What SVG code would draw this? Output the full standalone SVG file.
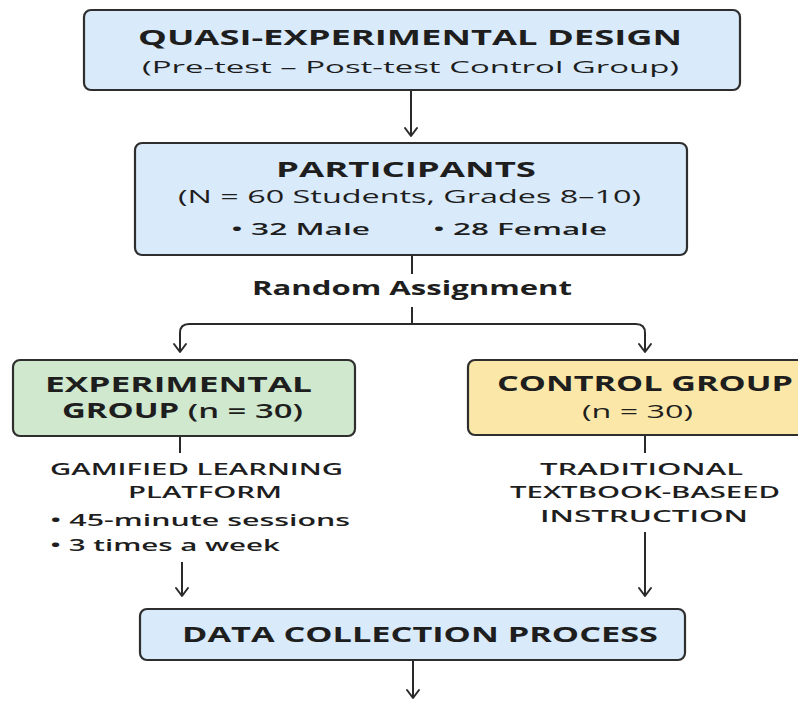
<svg xmlns="http://www.w3.org/2000/svg" width="798" height="702" viewBox="0 0 798 702">
<defs>
<marker id="arr" viewBox="-10 -8 12 16" refX="0" refY="0" markerWidth="12" markerHeight="16" markerUnits="userSpaceOnUse" orient="auto">
<path d="M-8,-6 L0,0 L-8,6" fill="none" stroke="#2a2a2a" stroke-width="2" stroke-linecap="round" stroke-linejoin="round"/>
</marker>
</defs>
<style>
.box{stroke:#2e2e2e;stroke-width:2.2}
.blue{fill:#d9eafa}
.green{fill:#d0e8cd}
.yellow{fill:#fbe8a8}
text{font-family:"Open Sans","DejaVu Sans","Liberation Sans",sans-serif;fill:#1e1e1e}
.h{font-weight:700}
.m{font-weight:600}
.r{font-weight:400}
.c{fill:none;stroke:#2a2a2a;stroke-width:2}
</style>
<rect width="798" height="702" fill="#ffffff"/>
<g id="connectors">
<line class="c" x1="411" y1="91" x2="411" y2="136" marker-end="url(#arr)"/>
<line class="c" x1="412" y1="255" x2="412" y2="274"/>
<path class="c" d="M412,307 L412,324 M412,324 L189,324 Q180,324 180,333 L180,352" marker-end="url(#arr)"/>
<path class="c" d="M412,324 L636,324 Q645,324 645,333 L645,352" marker-end="url(#arr)"/>
<line class="c" x1="180" y1="436" x2="180" y2="453"/>
<line class="c" x1="645" y1="436" x2="645" y2="453"/>
<line class="c" x1="182" y1="562" x2="182" y2="596" marker-end="url(#arr)"/>
<line class="c" x1="645" y1="532" x2="645" y2="596" marker-end="url(#arr)"/>
<line class="c" x1="413" y1="661" x2="413" y2="698" marker-end="url(#arr)"/>
</g>
<g id="design">
<rect class="box blue" x="84" y="10" width="656" height="80" rx="7"/>
<text class="h" x="138" y="45" font-size="22" textLength="544" lengthAdjust="spacingAndGlyphs">QUASI-EXPERIMENTAL DESIGN</text>
<text class="r" x="142" y="73" font-size="16" textLength="537" lengthAdjust="spacingAndGlyphs">(Pre-test – Post-test Control Group)</text>
</g>
<g id="participants">
<rect class="box blue" x="135" y="143" width="552" height="112" rx="7"/>
<text class="h" x="276" y="177" font-size="21" textLength="260" lengthAdjust="spacingAndGlyphs">PARTICIPANTS</text>
<text class="r" x="178" y="203" font-size="17.5" textLength="463" lengthAdjust="spacingAndGlyphs">(N = 60 Students, Grades 8–10)</text>
<text class="m" x="231" y="235" font-size="17" textLength="139" lengthAdjust="spacingAndGlyphs">• 32 Male</text>
<text class="m" x="433" y="235" font-size="17" textLength="174" lengthAdjust="spacingAndGlyphs">• 28 Female</text>
</g>
<g id="random-assignment">
<text class="h" x="252" y="295" font-size="19" textLength="320" lengthAdjust="spacingAndGlyphs">Random Assignment</text>
</g>
<g id="experimental">
<rect class="box green" x="13" y="360" width="342" height="76" rx="7"/>
<text class="h" x="45" y="392" font-size="20.5" textLength="267" lengthAdjust="spacingAndGlyphs">EXPERIMENTAL</text>
<text class="h" x="62" y="418" font-size="20.5" textLength="241" lengthAdjust="spacingAndGlyphs">GROUP <tspan class="m">(n = 30)</tspan></text>
</g>
<g id="experimental-treatment">
<text class="m" x="50" y="475" font-size="17" textLength="293" lengthAdjust="spacingAndGlyphs">GAMIFIED LEARNING</text>
<text class="m" x="128" y="498" font-size="17" textLength="154" lengthAdjust="spacingAndGlyphs">PLATFORM</text>
<text class="m" x="50" y="526" font-size="17" textLength="300" lengthAdjust="spacingAndGlyphs">• 45-minute sessions</text>
<text class="m" x="50" y="550.5" font-size="17" textLength="230" lengthAdjust="spacingAndGlyphs">• 3 times a week</text>
</g>
<g id="control">
<rect class="box yellow" x="468" y="360" width="345" height="75" rx="7"/>
<text class="h" x="497" y="391" font-size="20.5" textLength="296" lengthAdjust="spacingAndGlyphs">CONTROL GROUP</text>
<text class="r" x="582" y="418" font-size="18" textLength="111" lengthAdjust="spacingAndGlyphs">(n = 30)</text>
</g>
<g id="control-treatment">
<text class="m" x="540" y="475" font-size="17" textLength="203" lengthAdjust="spacingAndGlyphs">TRADITIONAL</text>
<text class="m" x="510" y="498" font-size="17" textLength="270" lengthAdjust="spacingAndGlyphs">TEXTBOOK-BASEED</text>
<text class="m" x="540" y="521.5" font-size="17" textLength="208" lengthAdjust="spacingAndGlyphs">INSTRUCTION</text>
</g>
<g id="data-collection">
<rect class="box blue" x="140" y="609" width="545" height="51" rx="7"/>
<text class="h" x="182" y="641.5" font-size="21" textLength="476" lengthAdjust="spacingAndGlyphs">DATA COLLECTION PROCESS</text>
</g>
</svg>
